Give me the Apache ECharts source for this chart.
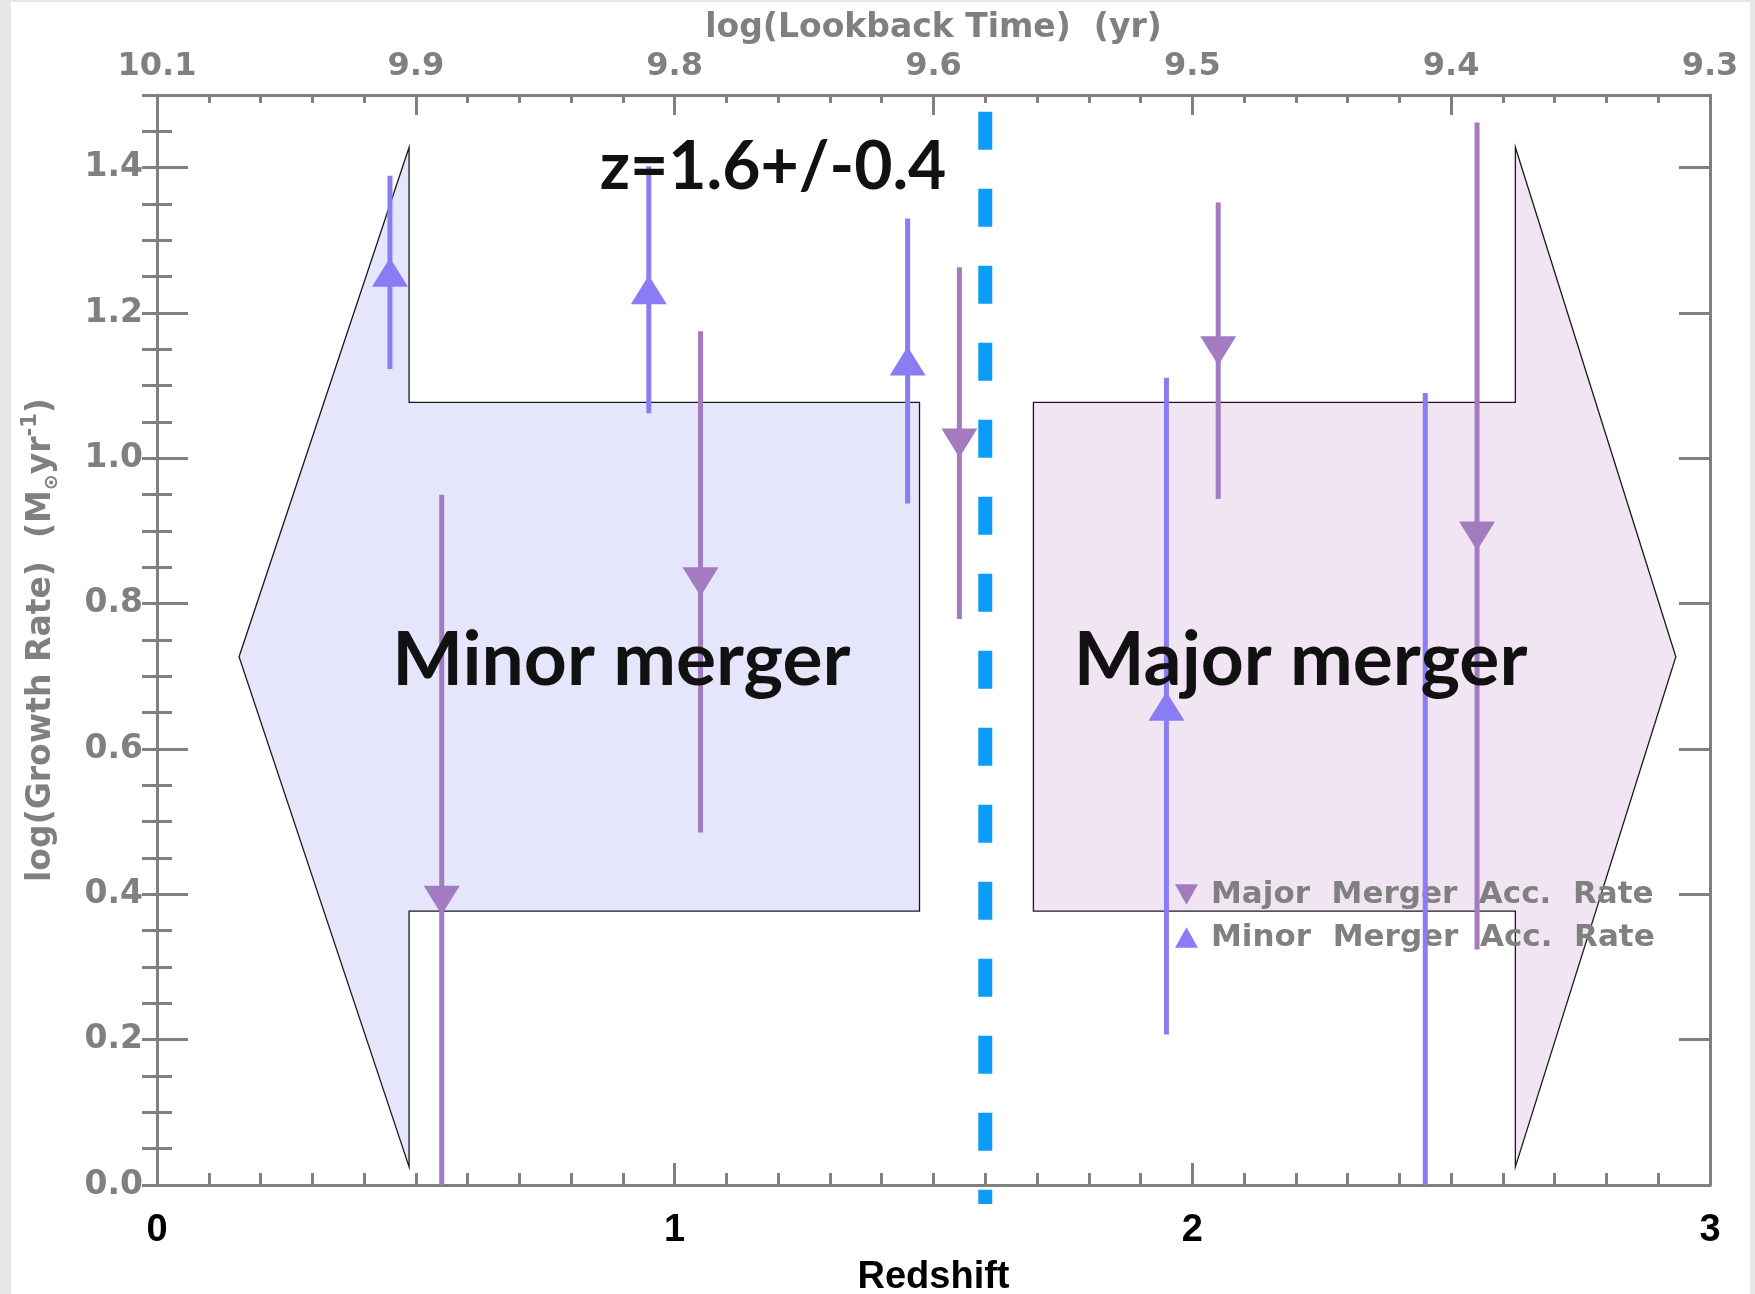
<!DOCTYPE html>
<html><head><meta charset="utf-8">
<script src="https://cdn.jsdelivr.net/npm/echarts@6/dist/echarts.min.js"></script>
<style>
html,body{margin:0;padding:0;background:#e7e7e7;width:1755px;height:1294px;overflow:hidden}
#chart{position:absolute;left:11px;top:2px;width:1739px;height:1292px;background:#fff}
</style></head><body><div id="chart"></div>
<script>
// Accretion rates per redshift bin: log rate and its symmetric error
const minorRedshift = [0.45, 0.95, 1.45, 1.95, 2.45];
const minorRate     = [1.256, 1.232, 1.134, 0.659, -0.06];
const minorErr      = [0.133, 0.170, 0.196, 0.452, 1.15];
const majorRedshift = [0.55, 1.05, 1.55, 2.05, 2.55];
const majorRate     = [0.392, 0.830, 1.021, 1.148, 0.893];
const majorErr      = [0.558, 0.345, 0.242, 0.204, 0.569];

// top axis tick labels, log(lookback time)
const lookbackLabels = ['10.1', '9.9', '9.8', '9.6', '9.5', '9.4', '9.3'];

// transition redshift
const transitionZ = 1.6;
const transitionLabel = 'z=1.6+/-0.4';

// regime arrows, outline vertices as (redshift, log rate)
const minorArrow = [[0.1585,0.727],[0.487,1.428],[0.487,1.077],[1.473,1.077],[1.473,0.377],[0.487,0.377],[0.487,0.025]];
const majorArrow = [[1.693,1.077],[2.624,1.077],[2.624,1.428],[2.934,0.727],[2.624,0.025],[2.624,0.377],[1.693,0.377]];
const arrowNames = ['Minor merger', 'Major merger'];

const GREY = '#808080';
const MINOR_COLOR = '#8a7df4';
const MAJOR_COLOR = '#a27bc0';
const tickFont = 'DejaVu Sans';

const chart = echarts.init(document.getElementById('chart'));

function zip3(a, b, c) { return a.map((v, i) => [v, b[i], c[i]]); }

function errorBarSeries(name, xs, ys, es, color) {
  return {
    name: name, type: 'custom', clip: true, z: 4,
    data: zip3(xs, ys, es),
    renderItem: function (params, api) {
      const x = api.value(0), v = api.value(1), e = api.value(2);
      const p1 = api.coord([x, v - e]);
      const p2 = api.coord([x, v + e]);
      return { type: 'line', shape: { x1: p1[0], y1: p1[1], x2: p2[0], y2: p2[1] },
               style: { stroke: color, lineWidth: 5 } };
    }
  };
}

const arrows = [minorArrow, majorArrow];
const arrowFill = ['#e5e5fb', '#f1e5f3'];

const axisLineStyle = { color: GREY, width: 3 };
const tickStyle = { color: GREY, width: 3 };

const option = {
  animation: false,
  grid: { left: 146, top: 93, right: 40, bottom: 109, containLabel: false, outerBoundsMode: 'none' },
  xAxis: [
    {
      type: 'value', position: 'bottom', min: 0, max: 3, interval: 1,
      axisLine: { show: true, onZero: false, lineStyle: axisLineStyle },
      axisTick: { show: true, inside: true, length: 22, lineStyle: tickStyle },
      minorTick: { show: true, splitNumber: 10, length: 12, lineStyle: tickStyle },
      splitLine: { show: false },
      axisLabel: { color: '#000', fontSize: 38, fontWeight: 'bold', fontFamily: 'Liberation Sans', margin: 27 },
      name: 'Redshift', nameLocation: 'middle', nameGap: 74,
      nameTextStyle: { color: '#000', fontSize: 38, fontWeight: 'bold', fontFamily: 'Liberation Sans' }
    },
    {
      type: 'value', position: 'top', min: 0, max: lookbackLabels.length - 1, interval: 1,
      axisLine: { show: true, onZero: false, lineStyle: axisLineStyle },
      axisTick: { show: true, inside: true, length: 20, lineStyle: tickStyle },
      minorTick: { show: true, splitNumber: 5, length: 8, lineStyle: tickStyle },
      splitLine: { show: false },
      axisLabel: { color: GREY, fontSize: 32, fontWeight: 'bold', fontFamily: tickFont, margin: 12,
                   formatter: v => lookbackLabels[Math.round(v)] },
      name: 'log(Lookback Time)  (yr)', nameLocation: 'middle', nameGap: 50,
      nameTextStyle: { color: GREY, fontSize: 33, fontWeight: 'bold', fontFamily: tickFont }
    }
  ],
  yAxis: [
    {
      type: 'value', position: 'left', min: 0, max: 1.5, interval: 0.2,
      axisLine: { show: true, onZero: false, lineStyle: axisLineStyle },
      axisTick: { show: true, inside: true, length: 31, lineStyle: tickStyle },
      splitLine: { show: false },
      axisLabel: { color: GREY, fontSize: 33, fontWeight: 'bold', fontFamily: tickFont, margin: 14,
                   showMaxLabel: false, formatter: v => v.toFixed(1) },
      name: 'log(Growth Rate)  (M{sub|⊙}yr{sup|-1})', nameLocation: 'middle', nameGap: 95, nameRotate: 90,
      nameTextStyle: { color: GREY, fontSize: 33, fontWeight: 'bold', fontFamily: tickFont, lineHeight: 42,
        rich: {
          sub: { color: GREY, fontSize: 19, fontWeight: 'bold', fontFamily: tickFont, verticalAlign: 'bottom', lineHeight: 42 },
          sup: { color: GREY, fontSize: 21, fontWeight: 'bold', fontFamily: tickFont, verticalAlign: 'top', lineHeight: 42 }
        } }
    },
    {
      type: 'value', position: 'left', min: 0, max: 1.5, interval: 0.05,
      axisLine: { show: false }, splitLine: { show: false }, axisLabel: { show: false },
      axisTick: { show: true, inside: true, length: 15, lineStyle: tickStyle }
    },
    {
      type: 'value', position: 'right', min: 0, max: 1.5, interval: 0.2,
      axisLine: { show: true, onZero: false, lineStyle: axisLineStyle },
      axisTick: { show: true, inside: true, length: 31, lineStyle: tickStyle },
      splitLine: { show: false }, axisLabel: { show: false }
    },
    {
      type: 'value', position: 'right', min: 0, max: 1.5, interval: 0.05,
      axisLine: { show: false }, splitLine: { show: false }, axisLabel: { show: false },
      axisTick: { show: true, inside: true, length: 15, lineStyle: tickStyle }
    }
  ],
  legend: {
    orient: 'vertical', left: 1159, top: 872, itemWidth: 23, itemHeight: 22, itemGap: 12,
    selectedMode: false,
    formatter: name => name.split(' ').join('  '),
    textStyle: { color: GREY, fontSize: 31, fontWeight: 'bold', fontFamily: tickFont, lineHeight: 30, padding: [0, 0, 0, 8] },
    data: [
      { name: 'Major Merger Acc. Rate', icon: 'path://M0,0L20,0L10,18Z' },
      { name: 'Minor Merger Acc. Rate', icon: 'path://M10,0L20,18L0,18Z' }
    ]
  },
  series: [
    {
      name: 'regimes', type: 'custom', z: 1, silent: true,
      data: arrows.map((a, i) => [a[0][0], a[0][1], i]),
      renderItem: function (params, api) {
        const i = api.value(2);
        const pts = arrows[i].map(p => api.coord(p));
        return { type: 'polygon', shape: { points: pts },
                 style: { fill: arrowFill[i], stroke: '#1a1a1a', lineWidth: 1.3 } };
      }
    },
    {
      name: 'transition', type: 'line', z: 3, clip: false, symbol: 'none', silent: true,
      data: [[transitionZ, 1.477], [transitionZ, -0.026]],
      lineStyle: { color: '#0a9cf7', width: 14, type: [38, 39], cap: 'butt' }
    },
    errorBarSeries('minorErr', minorRedshift, minorRate, minorErr, MINOR_COLOR),
    errorBarSeries('majorErr', majorRedshift, majorRate, majorErr, MAJOR_COLOR),
    {
      name: 'Minor Merger Acc. Rate', type: 'scatter', z: 5, clip: true,
      symbol: 'triangle', symbolSize: [36, 29],
      itemStyle: { color: MINOR_COLOR, opacity: 1 },
      data: minorRedshift.map((z, i) => [z, minorRate[i]])
    },
    {
      name: 'Major Merger Acc. Rate', type: 'scatter', z: 5, clip: true,
      symbol: 'triangle', symbolRotate: 180, symbolSize: [36, 29],
      itemStyle: { color: MAJOR_COLOR, opacity: 1 },
      data: majorRedshift.map((z, i) => [z, majorRate[i]])
    },
    {
      name: 'annotations', type: 'custom', z: 6, silent: true,
      data: [[1.19, 1.40, 0], [0.897, 0.722, 1], [2.209, 0.722, 2]],
      renderItem: function (params, api) {
        const p = api.coord([api.value(0), api.value(1)]);
        const k = api.value(2);
        const text = k === 0 ? transitionLabel : arrowNames[k - 1];
        return { type: 'text', x: p[0], y: p[1],
                 style: { text: text, fill: '#111', fontFamily: 'Lato', fontWeight: 'bold',
                          fontSize: k === 0 ? 66 : 75, align: 'center', verticalAlign: 'middle' } };
      }
    }
  ]
};
chart.setOption(option);
</script></body></html>
